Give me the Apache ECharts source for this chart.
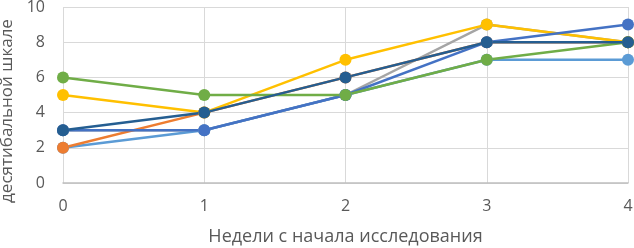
<!DOCTYPE html>
<html>
<head>
<meta charset="utf-8">
<script src="https://fastly.jsdelivr.net/npm/echarts@6/dist/echarts.min.js"></script>
<style>
  html, body { margin: 0; padding: 0; background: #fff; }
  #chart { width: 634px; height: 248px; }
</style>
</head>
<body>
<div id="chart"></div>
<script>
// weeks since start of the study
const weeks = [0, 1, 2, 3, 4];

// scores, one array per participant (drawn bottom to top)
const gray      = [3, 3, 5, 9, 8];
const lightBlue = [2, 3, 5, 7, 7];
const orange    = [2, 4, 6, 8, 8];
const yellow    = [5, 4, 7, 9, 8];
const blue      = [3, 3, 5, 8, 9];
const green     = [6, 5, 5, 7, 8];
const darkBlue  = [3, 4, 6, 8, 8];

const seriesDefs = [
  { name: 'gray', values: gray, color: '#A5A5A5' },
  { name: 'lightBlue', values: lightBlue, color: '#5B9BD5' },
  { name: 'orange', values: orange, color: '#ED7D31' },
  { name: 'yellow', values: yellow, color: '#FFC000' },
  { name: 'blue', values: blue, color: '#4472C4' },
  { name: 'green', values: green, color: '#70AD47' },
  { name: 'darkBlue', values: darkBlue, color: '#255E91' }
];

const font = '"Open Sans", sans-serif';
const chart = echarts.init(document.getElementById('chart'));

chart.setOption({
  animation: false,
  grid: { left: 63, right: 6, top: 7, bottom: 65, outerBoundsMode: 'none' },
  xAxis: {
    type: 'value',
    min: 0, max: 4, interval: 1,
    name: 'Недели с начала исследования',
    nameLocation: 'middle',
    nameGap: 45,
    nameTextStyle: { color: '#595959', fontSize: 18, fontFamily: font },
    axisLine: { show: true, lineStyle: { color: '#BFBFBF', width: 1.5 } },
    axisTick: { show: false },
    axisLabel: { color: '#595959', fontSize: 16, fontFamily: font, margin: 15 },
    splitLine: { show: true, lineStyle: { color: '#D9D9D9', width: 1 } }
  },
  yAxis: {
    type: 'value',
    min: 0, max: 10, interval: 2,
    name: 'десятибальной шкале',
    nameLocation: 'middle',
    nameGap: 45,
    nameTextStyle: { color: '#595959', fontSize: 17, fontFamily: font, padding: [0, 32, 0, 0] },
    axisLine: { show: false },
    axisTick: { show: false },
    axisLabel: { color: '#595959', fontSize: 16, fontFamily: font, margin: 18 },
    splitLine: { show: true, lineStyle: { color: '#D9D9D9', width: 1 } }
  },
  series: seriesDefs.map(function (s) {
    return {
      name: s.name,
      type: 'line',
      data: weeks.map(function (w, i) { return [w, s.values[i]]; }),
      symbol: 'circle',
      symbolSize: 12,
      showAllSymbol: true,
      clip: false,
      lineStyle: { color: s.color, width: 2.5 },
      itemStyle: { color: s.color }
    };
  })
});
</script>
</body>
</html>
